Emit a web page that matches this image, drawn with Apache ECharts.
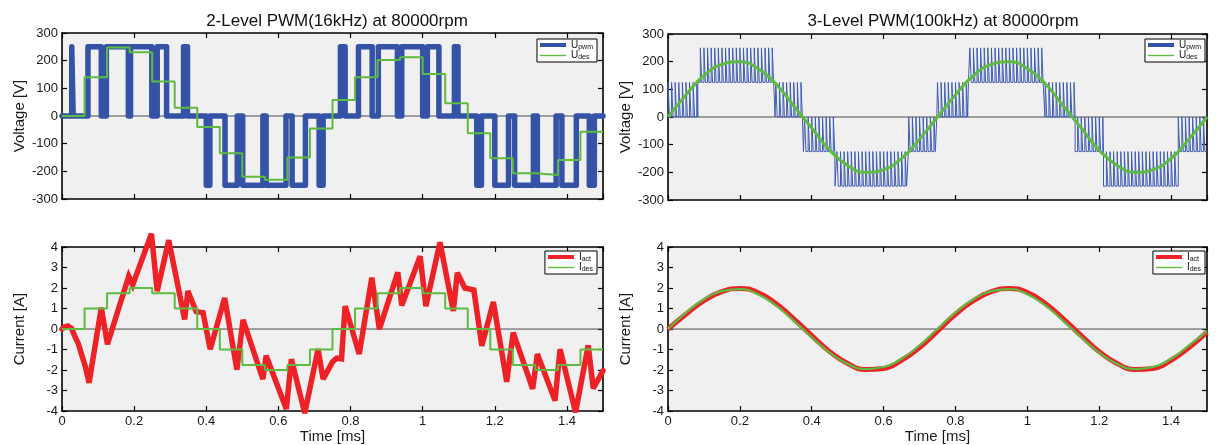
<!DOCTYPE html>
<html>
<head>
<meta charset="utf-8">
<script src="https://cdn.jsdelivr.net/npm/echarts@6/dist/echarts.min.js"></script>
<style>
  html, body { margin: 0; padding: 0; background: #fff; }
  #chart { width: 1216px; height: 445px; }
</style>
</head>
<body>
<div id="chart"></div>
<script>
// ---------- 2-level PWM (16 kHz sampling, 0.0625 ms hold) ----------
const stepEdges2L = [0, 0.0625, 0.125, 0.1875, 0.25, 0.3125, 0.375, 0.4375, 0.5, 0.5625, 0.625, 0.6875,
  0.75, 0.8125, 0.875, 0.9375, 1, 1.0625, 1.125, 1.1875, 1.25, 1.3125, 1.375, 1.4375, 1.5];
const uDes2L = [0, 140, 248, 230, 125, 30, -40, -135, -220, -230, -150, -45,
  58, 140, 202, 212, 152, 46, -62, -153, -207, -213, -159, -57];
const iDes2L = [0, 1, 1.75, 2, 1.75, 1, 0, -1, -1.75, -2, -1.75, -1,
  0, 1, 1.75, 2, 1.75, 1, 0, -1, -1.75, -2, -1.75, -1];

// switching pulses: start time, end time, pulse level [V]
const pulseOn2L = [0.027, 0.072, 0.123, 0.190, 0.264, 0.337, 0.400, 0.452, 0.501, 0.566, 0.638, 0.713,
  0.772, 0.822, 0.877, 0.942, 1.013, 1.088, 1.150, 1.200, 1.255, 1.318, 1.386, 1.462];
const pulseOff2L = [0.031, 0.109, 0.184, 0.249, 0.290, 0.348, 0.410, 0.486, 0.557, 0.621, 0.675, 0.724,
  0.785, 0.860, 0.930, 1.000, 1.045, 1.098, 1.163, 1.238, 1.307, 1.370, 1.426, 1.476];
const pulseLevel2L = [250, 250, 250, 250, 250, 250, -250, -250, -250, -250, -250, -250,
  250, 250, 250, 250, 250, 250, -250, -250, -250, -250, -250, -250];

// measured phase current (vertices of the ripple waveform)
const iActT2L = [0, 0.006, 0.016, 0.027, 0.035, 0.045, 0.054, 0.065, 0.075, 0.109, 0.126, 0.185, 0.196,
  0.248, 0.264, 0.296, 0.340, 0.349, 0.372, 0.391, 0.411, 0.451, 0.485, 0.502, 0.557, 0.566, 0.622,
  0.636, 0.673, 0.710, 0.724, 0.750, 0.762, 0.775, 0.785, 0.824, 0.859, 0.880, 0.931, 0.942, 0.993,
  1.009, 1.048, 1.085, 1.096, 1.117, 1.142, 1.164, 1.196, 1.233, 1.251, 1.305, 1.318, 1.367, 1.381,
  1.424, 1.459, 1.473, 1.5];
const iActV2L = [0, 0.1, 0.15, 0.02, -0.33, -0.7, -1.22, -1.85, -2.62, 1.04, -0.74, 2.58, 2.15,
  4.65, 1.85, 4.33, 0.47, 1.85, 0.85, 0.8, -0.98, 1.52, -1.98, 0.45, -2.44, -1.3, -3.9,
  -1.47, -4.1, -0.98, -2.44, -1.6, -1.42, -1.45, 1.12, -1.22, 2.5, 0.0, 2.77, 1.15, 3.55,
  1.12, 4.23, 0.88, 2.74, 2.0, 1.9, -0.82, 1.32, -2.57, -0.17, -2.92, -1.22, -3.49, -0.98,
  -4.06, -0.79, -2.9, -2.03];

// ---------- 3-level PWM (100 kHz) ----------
const carrierPeriod3L = 0.01;   // ms
const pulseWidth3L = 0.004;     // ms
const segStart3L = [0, 0.083, 0.298, 0.377, 0.465, 0.669, 0.748, 0.836, 1.049, 1.133, 1.212, 1.42];
const segLow3L = [0, 125, 0, -125, -250, -125, 0, 125, 0, -125, -250, -125];
const segHigh3L = [125, 250, 125, 0, -125, 0, 125, 250, 125, 0, -125, 0];

const t3L = [0, 0.05, 0.1, 0.15, 0.2, 0.25, 0.3, 0.35, 0.4, 0.45, 0.5, 0.55, 0.6, 0.65, 0.7, 0.75,
  0.8, 0.85, 0.9, 0.95, 1, 1.05, 1.1, 1.15, 1.2, 1.25, 1.3, 1.35, 1.4, 1.45, 1.5];
const uDes3L = [0, 80, 150, 190, 200, 175, 120, 40, -40, -120, -175, -200, -190, -150, -80, 0,
  80, 150, 190, 200, 175, 120, 40, -40, -120, -175, -200, -190, -150, -80, 0];
const iDes3L = [0, 0.8, 1.45, 1.85, 1.95, 1.7, 1.15, 0.4, -0.4, -1.15, -1.7, -1.95, -1.85, -1.45, -0.8, 0,
  0.8, 1.45, 1.85, 1.95, 1.7, 1.15, 0.4, -0.4, -1.15, -1.7, -1.95, -1.85, -1.45, -0.8, -0.1];
const iAct3L = [0, 0.72, 1.38, 1.82, 1.98, 1.78, 1.25, 0.5, -0.32, -1.1, -1.68, -1.97, -1.92, -1.52, -0.9, -0.1,
  0.72, 1.38, 1.82, 1.98, 1.78, 1.25, 0.5, -0.32, -1.1, -1.68, -1.97, -1.92, -1.52, -0.9, -0.15];

// axis ticks
const timeRange = [0, 1.5], timeStep = 0.2;
const voltRange = [-300, 300], voltStep = 100;
const currRange = [-4, 4], currStep = 1;

// ---------- build series data ----------
function holdSteps(edges, vals) {
  const out = vals.map((v, i) => [edges[i], v]);
  out.push([edges[edges.length - 1], vals[vals.length - 1]]);
  return out;
}
function pulseTrain(on, off, lvl, tEnd) {
  const out = [[0, 0]];
  for (let i = 0; i < on.length; i++) {
    out.push([on[i], 0], [on[i], lvl[i]], [off[i], lvl[i]], [off[i], 0]);
  }
  out.push([tEnd, 0]);
  return out;
}
function comb(starts, lows, highs, tEnd, period, width) {
  const out = [];
  for (let s = 0; s < starts.length; s++) {
    const t0 = starts[s];
    const t1 = s + 1 < starts.length ? starts[s + 1] : tEnd;
    out.push([t0, lows[s]]);
    for (let k = Math.ceil(t0 / period - 1e-9); k * period < t1 - 1e-9; k++) {
      const c = k * period;
      const e = Math.min(c + width, t1);
      out.push([c, lows[s]], [c, highs[s]], [e, highs[s]], [e, lows[s]]);
    }
    out.push([t1, lows[s]]);
  }
  return out;
}
const zip = (xs, ys) => xs.map((x, i) => [x, ys[i]]);

const FONT = '"Liberation Sans", Arial, Helvetica, sans-serif';
const BLUE = '#3553a6', GREEN = '#5dbb3f', RED = '#ec2227';

const grids = [
  { left: 62, top: 33, width: 541, height: 166 },
  { left: 62, top: 247, width: 541, height: 165 },
  { left: 668, top: 34, width: 539, height: 166 },
  { left: 668, top: 247, width: 539, height: 166 }
].map(g => Object.assign({ show: true, backgroundColor: '#f0f0f0', borderWidth: 0 }, g));

const axisLineStyle = { color: '#000', width: 1.6 };
const tickStyle = { show: true, inside: true, length: 5, lineStyle: { color: '#000', width: 1.2 } };
const labelStyle = { color: '#1a1a1a', fontSize: 13, fontFamily: FONT };

function xAxesFor(gi, withLabels) {
  const base = {
    type: 'value', gridIndex: gi, min: timeRange[0], max: timeRange[1], interval: timeStep,
    axisLine: { show: true, onZero: false, lineStyle: axisLineStyle },
    axisTick: tickStyle, splitLine: { show: false }
  };
  return [
    Object.assign({}, base, {
      position: 'bottom',
      axisLabel: Object.assign({ show: withLabels, margin: 4, showMaxLabel: false }, labelStyle),
      name: withLabels ? 'Time [ms]' : '', nameLocation: 'middle', nameGap: 15,
      nameTextStyle: { fontSize: 15, color: '#1a1a1a', fontFamily: FONT }
    }),
    Object.assign({}, base, { position: 'top', axisLabel: { show: false } })
  ];
}
function yAxesFor(gi, range, step, name) {
  const base = {
    type: 'value', gridIndex: gi, min: range[0], max: range[1], interval: step,
    axisLine: { show: true, onZero: false, lineStyle: axisLineStyle },
    axisTick: tickStyle, splitLine: { show: false }
  };
  return [
    Object.assign({}, base, {
      position: 'left',
      axisLabel: Object.assign({ margin: 4 }, labelStyle),
      name: name, nameLocation: 'middle', nameGap: 35, nameRotate: 90,
      nameTextStyle: { fontSize: 15, color: '#1a1a1a', fontFamily: FONT }
    }),
    Object.assign({}, base, { position: 'right', axisLabel: { show: false } })
  ];
}

const xAxis = [].concat(xAxesFor(0, false), xAxesFor(1, true), xAxesFor(2, false), xAxesFor(3, true));
const yAxis = [].concat(
  yAxesFor(0, voltRange, voltStep, 'Voltage [V]'),
  yAxesFor(1, currRange, currStep, 'Current [A]'),
  yAxesFor(2, voltRange, voltStep, 'Voltage [V]'),
  yAxesFor(3, currRange, currStep, 'Current [A]'));

function zeroLine(gi) {
  return {
    name: '', type: 'line', xAxisIndex: gi * 2, yAxisIndex: gi * 2, silent: true,
    data: [[timeRange[0], 0], [timeRange[1], 0]], showSymbol: false, symbol: 'none',
    lineStyle: { color: '#4a4a4a', width: 1 }
  };
}
function line(gi, name, data, color, width, extra) {
  return Object.assign({
    name: name, type: 'line', xAxisIndex: gi * 2, yAxisIndex: gi * 2, data: data,
    symbol: 'none', showSymbol: false, clip: false, silent: true, color: color,
    lineStyle: { color: color, width: width }
  }, extra || {});
}

const series = [
  zeroLine(0),
  line(0, 'Upwm', pulseTrain(pulseOn2L, pulseOff2L, pulseLevel2L, timeRange[1]), BLUE, 5.5,
    { lineStyle: { color: BLUE, width: 5.5, join: 'round', cap: 'round' } }),
  line(0, 'Udes', holdSteps(stepEdges2L, uDes2L), GREEN, 2, { step: 'end' }),
  zeroLine(1),
  line(1, 'Iact', zip(iActT2L, iActV2L), RED, 5.5,
    { lineStyle: { color: RED, width: 5.5, join: 'miter', miterLimit: 3, cap: 'round' } }),
  line(1, 'Ides', holdSteps(stepEdges2L, iDes2L), GREEN, 2, { step: 'end' }),
  zeroLine(2),
  line(2, 'Upwm', comb(segStart3L, segLow3L, segHigh3L, timeRange[1], carrierPeriod3L, pulseWidth3L), '#3f5cb5', 1),
  line(2, 'Udes', zip(t3L, uDes3L), GREEN, 3, { smooth: true }),
  zeroLine(3),
  line(3, 'Iact', zip(t3L, iAct3L), RED, 5, { smooth: true }),
  line(3, 'Ides', zip(t3L, iDes3L), GREEN, 2.2, { smooth: true })
];

// legend icons: thick and thin line glyphs inside a 26x9 box
const THICK_ICON = 'path://M0,0L0,0M0,2.5L26,2.5L26,6.5L0,6.5ZM26,9L26,9';
const THIN_ICON = 'path://M0,0L0,0M0,3.8L26,3.8L26,5.2L0,5.2ZM26,9L26,9';

function legendFor(names, colors, right, top) {
  return {
    orient: 'vertical', right: right, top: top, selectedMode: false,
    backgroundColor: '#fff', borderColor: '#000', borderWidth: 1, borderRadius: 0,
    padding: [1, 4, 1, 3], itemGap: 0, itemWidth: 26, itemHeight: 9,
    itemStyle: { borderWidth: 0 },
    data: [
      { name: names[0], icon: THICK_ICON, itemStyle: { color: colors[0], borderWidth: 0 } },
      { name: names[1], icon: THIN_ICON, itemStyle: { color: colors[1], borderWidth: 0 } }
    ],
    formatter: n => '{m|' + n.charAt(0) + '}{s|' + n.slice(1) + '}',
    textStyle: {
      fontFamily: FONT, color: '#111',
      rich: {
        m: { fontSize: 10, lineHeight: 11, fontFamily: FONT, color: '#111' },
        s: { fontSize: 7, lineHeight: 5, verticalAlign: 'bottom', fontFamily: FONT, color: '#111' }
      }
    }
  };
}

const option = {
  animation: false,
  backgroundColor: '#fff',
  title: [
    { text: '2-Level PWM(16kHz) at 80000rpm', left: 332, top: 8, textAlign: 'center',
      textStyle: { fontSize: 17, fontWeight: 'normal', color: '#111', fontFamily: FONT } },
    { text: '3-Level PWM(100kHz) at 80000rpm', left: 938, top: 8, textAlign: 'center',
      textStyle: { fontSize: 17, fontWeight: 'normal', color: '#111', fontFamily: FONT } }
  ],
  legend: [
    legendFor(['Upwm', 'Udes'], [BLUE, GREEN], 619, 39),
    legendFor(['Iact', 'Ides'], [RED, GREEN], 619, 251),
    legendFor(['Upwm', 'Udes'], [BLUE, GREEN], 11, 39),
    legendFor(['Iact', 'Ides'], [RED, GREEN], 11, 251)
  ],
  grid: grids,
  xAxis: xAxis,
  yAxis: yAxis,
  series: series
};

const chart = echarts.init(document.getElementById('chart'), null, { renderer: 'canvas' });
chart.setOption(option);
</script>
</body>
</html>
